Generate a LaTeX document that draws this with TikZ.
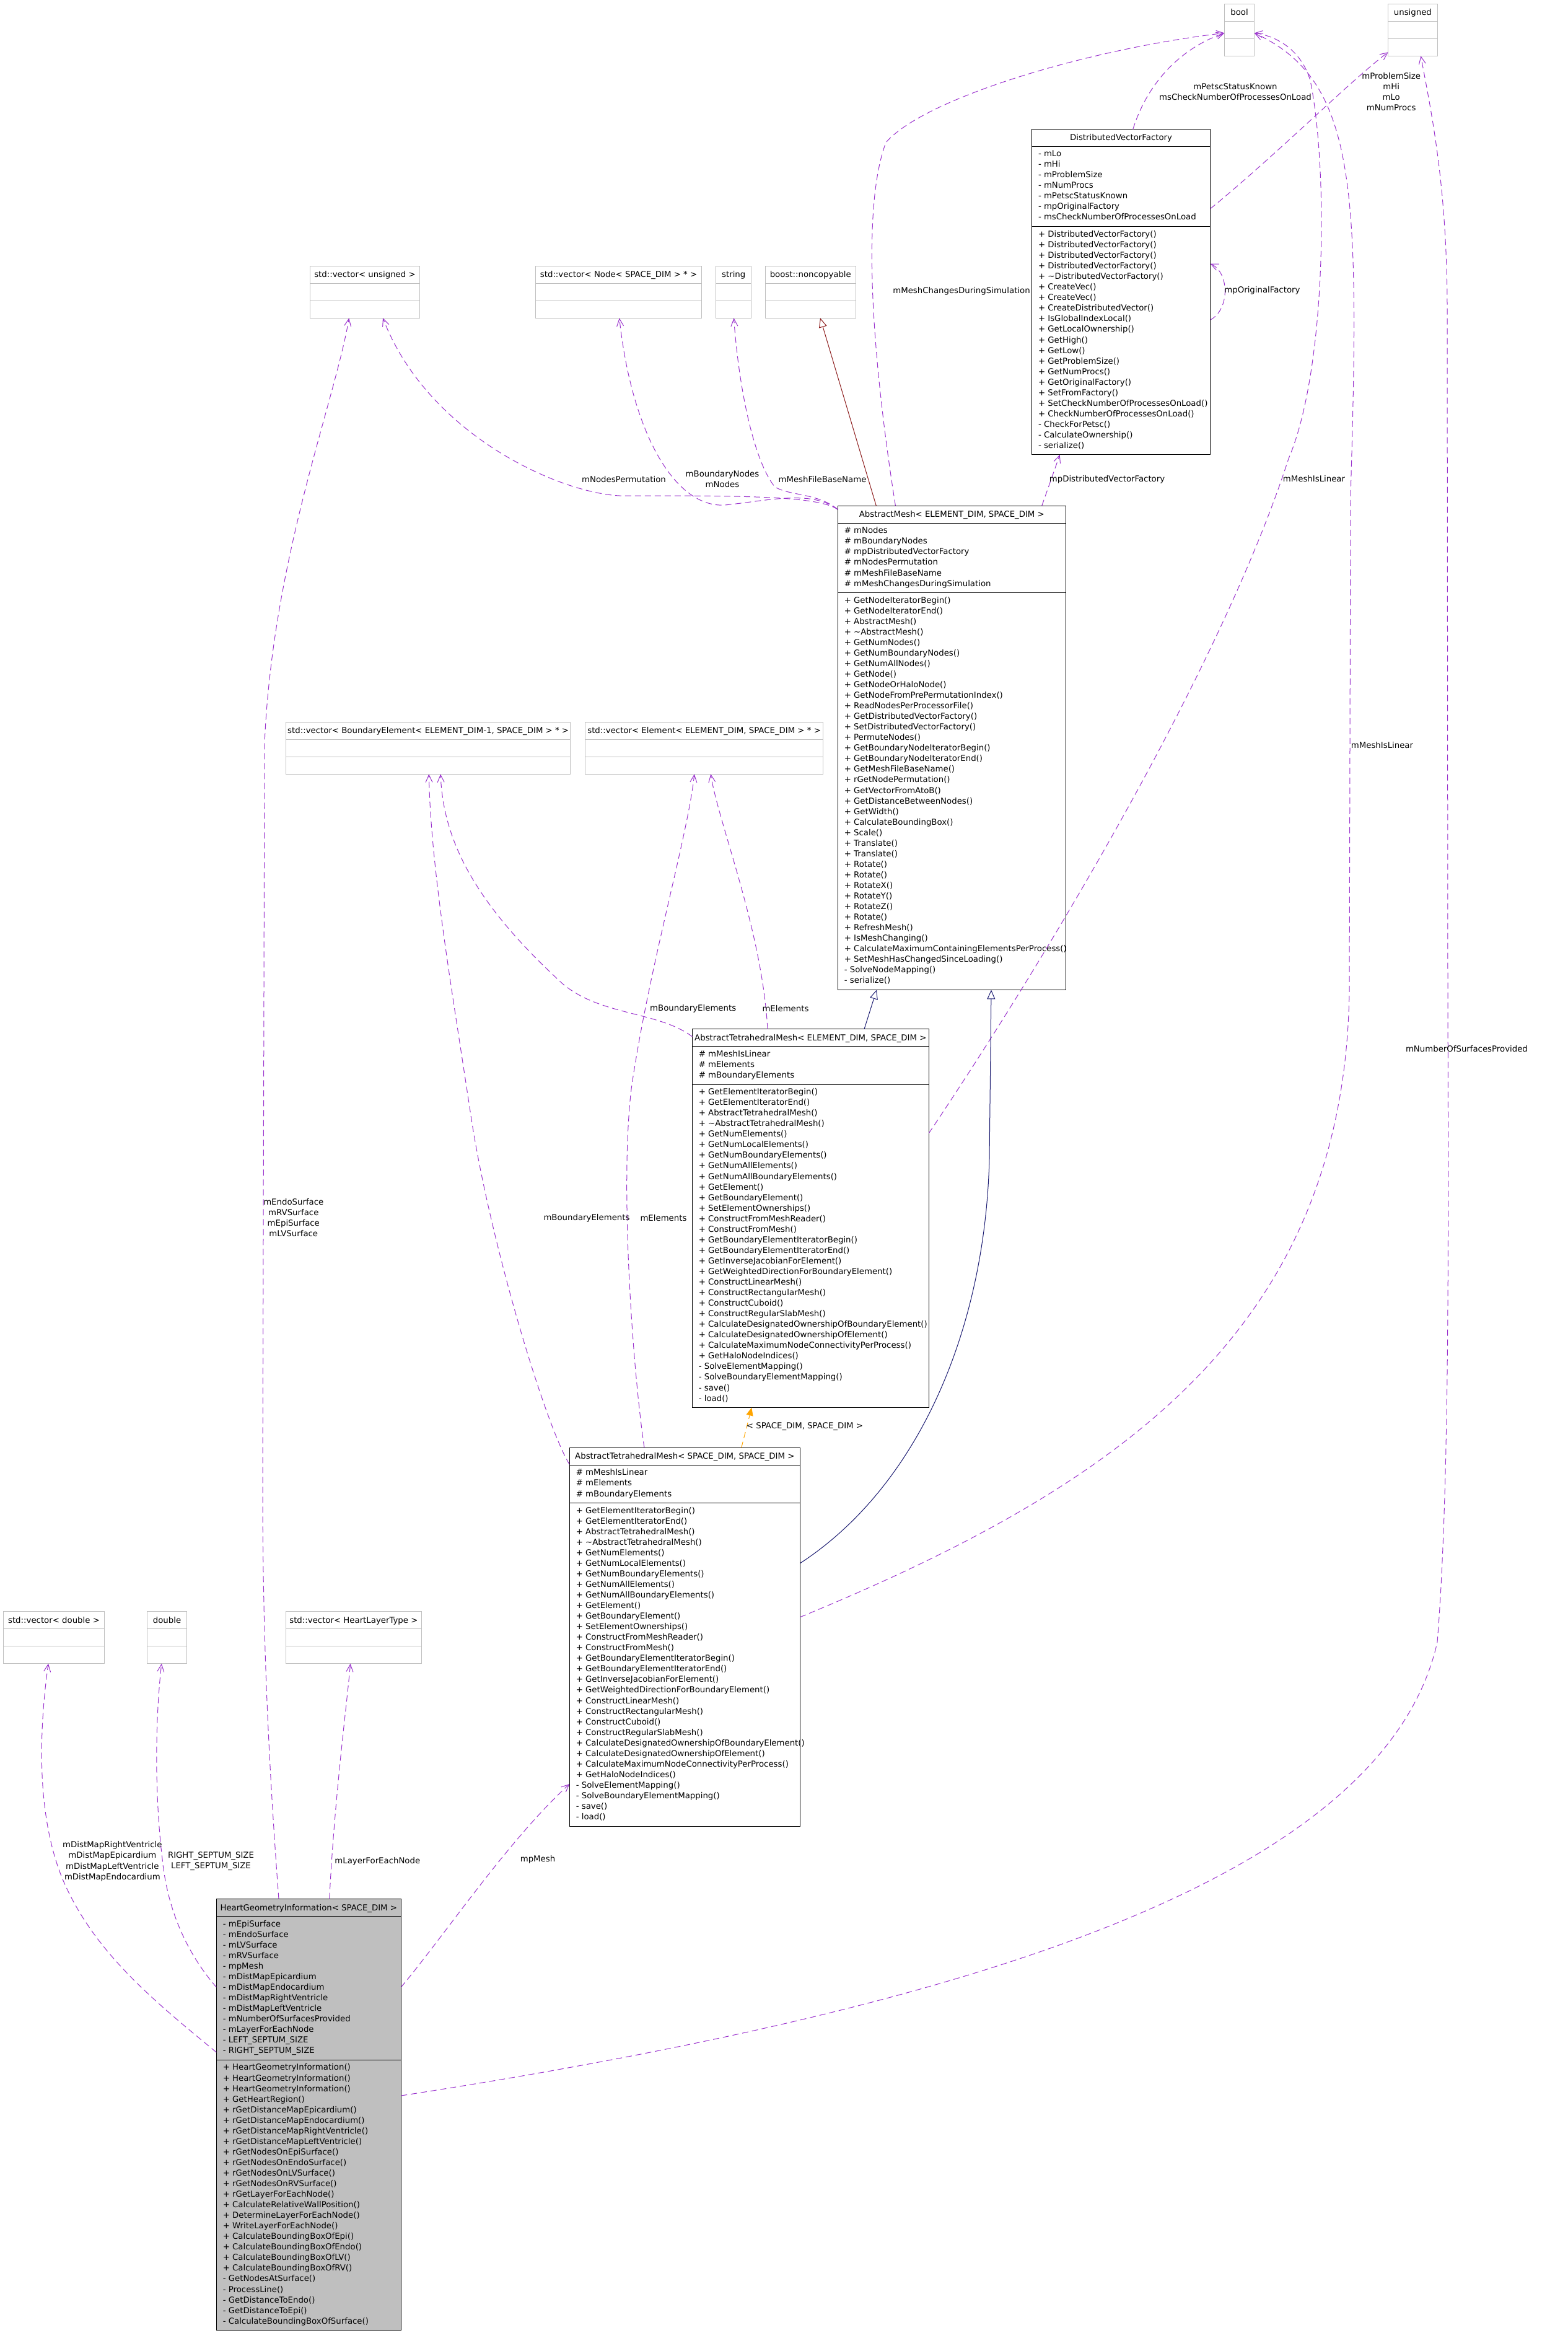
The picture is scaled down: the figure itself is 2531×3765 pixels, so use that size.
\documentclass[tikz,border=0pt]{standalone}
\usepackage{fontspec}
\setmainfont{DejaVu Sans}
\usetikzlibrary{calc,arrows.meta}
\definecolor{edge}{HTML}{9A32CD}
\definecolor{inherit}{HTML}{191970}
\definecolor{privinh}{HTML}{8B1A1A}
\definecolor{tmpl}{HTML}{FFA500}
\definecolor{tline}{HTML}{BFBFBF}
\definecolor{hgifill}{HTML}{BFBFBF}
\tikzset{
  tbox/.style    = {draw=tline, line width=1pt, inner sep=0pt, outer sep=0pt, anchor=north west},
  cbox/.style    = {draw=black, line width=1pt, inner sep=0pt, outer sep=0pt, anchor=north west},
  tdiv/.style    = {draw=tline, line width=1pt},
  cdiv/.style    = {draw=black, line width=1pt},
  txt/.style     = {font=\fontsize{13.3}{17.05}\selectfont, inner sep=0pt, outer sep=0pt},
  hdr/.style     = {txt, anchor=base},
  mem/.style     = {txt, anchor=north west, align=left},
  lbl/.style     = {txt, align=center},
  memb/.style    = {draw=edge, line width=1pt, dash pattern=on 10pt off 6pt,
                    -{Straight Barb[length=12pt,width=11pt]}},
  isa/.style     = {draw=inherit, line width=1pt, -{Triangle[open,length=15pt,width=13pt]}},
  isapriv/.style = {isa, draw=privinh},
  tinst/.style   = {draw=tmpl, line width=1pt, dash pattern=on 10pt off 6pt,
                    -{Triangle[length=13pt,width=11pt]}},
}
\begin{document}
\begin{tikzpicture}[x=1pt,y=-1pt]
\path[use as bounding box] (0,0) rectangle (2531,3765);

% ---------- plain member types ------------------------------------------
\node[tbox, minimum width=48.3pt,  minimum height=84pt] (boolt) at (1976.4,6.3)   {};
\node[tbox, minimum width=79.5pt,  minimum height=84pt] (unsgt) at (2240.6,6.3)   {};
\node[tbox, minimum width=177.4pt, minimum height=84pt] (vuns)  at (500.3,429.3)  {};
\node[tbox, minimum width=267.5pt, minimum height=84pt] (vnode) at (864.8,429.3)  {};
\node[tbox, minimum width=56.9pt,  minimum height=84pt] (strt)  at (1155.8,429.3) {};
\node[tbox, minimum width=145.4pt, minimum height=84pt] (noncp) at (1235.6,429.3) {};
\node[tbox, minimum width=458.9pt, minimum height=84pt] (vbel)  at (461.7,1165.3) {};
\node[tbox, minimum width=383.8pt, minimum height=84pt] (vel)   at (944.7,1165.3) {};
\node[tbox, minimum width=163pt,   minimum height=84pt] (vdbl)  at (5.5,2600.7)   {};
\node[tbox, minimum width=64.3pt,  minimum height=84pt] (dblt)  at (237.4,2600.7) {};
\node[tbox, minimum width=219pt,   minimum height=84pt] (vhlt)  at (461.4,2600.7) {};

\foreach \b in {boolt,unsgt,vuns,vnode,strt,noncp,vbel,vel,vdbl,dblt,vhlt}{
  \draw[tdiv] ($(\b.north west)+(0,28)$) -- ($(\b.north east)+(0,28)$);
  \draw[tdiv] ($(\b.north west)+(0,56)$) -- ($(\b.north east)+(0,56)$);
}

\node[hdr] (boolt-t) at ($(boolt.north)+(0,18.5)$) {bool};
\node[hdr] (unsgt-t) at ($(unsgt.north)+(0,18.5)$) {unsigned};
\node[hdr] (vuns-t)  at ($(vuns.north)+(0,18.5)$)  {std::vector< unsigned >};
\node[hdr] (vnode-t) at ($(vnode.north)+(0,18.5)$) {std::vector< Node< SPACE\_DIM > * >};
\node[hdr] (strt-t)  at ($(strt.north)+(0,18.5)$)  {string};
\node[hdr] (noncp-t) at ($(noncp.north)+(0,18.5)$) {boost::noncopyable};
\node[hdr] (vbel-t)  at ($(vbel.north)+(0,18.5)$)  {std::vector< BoundaryElement< ELEMENT\_DIM-1, SPACE\_DIM > * >};
\node[hdr] (vel-t)   at ($(vel.north)+(0,18.5)$)   {std::vector< Element< ELEMENT\_DIM, SPACE\_DIM > * >};
\node[hdr] (vdbl-t)  at ($(vdbl.north)+(0,18.5)$)  {std::vector< double >};
\node[hdr] (dblt-t)  at ($(dblt.north)+(0,18.5)$)  {double};
\node[hdr] (vhlt-t)  at ($(vhlt.north)+(0,18.5)$)  {std::vector< HeartLayerType >};

% ---------- classes -----------------------------------------------------
\node[cbox, minimum width=288.1pt, minimum height=525.4pt] (dvf)   at (1665.5,208.5)  {};
\node[cbox, minimum width=368pt,   minimum height=781.2pt] (amesh) at (1352.3,816.2)  {};
\node[cbox, minimum width=382pt,   minimum height=610.7pt] (atme)  at (1117.3,1660.8) {};
\node[cbox, minimum width=372pt,   minimum height=610.7pt] (atms)  at (919.3,2336.3)  {};
\node[cbox, fill=hgifill, minimum width=298pt, minimum height=696pt] (hgi) at (349.3,3064.6) {};

\foreach \b/\p/\q in {dvf/28/157.4, amesh/28/140.3, atme/28/89.2, atms/28/89.2, hgi/28/259.7}{
  \draw[cdiv] ($(\b.north west)+(0,\p)$) -- ($(\b.north east)+(0,\p)$);
  \draw[cdiv] ($(\b.north west)+(0,\q)$) -- ($(\b.north east)+(0,\q)$);
}

% DistributedVectorFactory
\node[hdr] (dvf-t) at ($(dvf.north)+(0,18.5)$) {DistributedVectorFactory};
\node[mem] (dvf-a) at ($(dvf.north west)+(10.5,34.5)$)
  {- mLo\\- mHi\\- mProblemSize\\- mNumProcs\\- mPetscStatusKnown\\- mpOriginalFactory\\- msCheckNumberOfProcessesOnLoad};
\node[mem] (dvf-m) at ($(dvf.north west)+(10.5,163.9)$)
  {+ DistributedVectorFactory()\\+ DistributedVectorFactory()\\+ DistributedVectorFactory()\\+ DistributedVectorFactory()\\
   + \textasciitilde DistributedVectorFactory()\\+ CreateVec()\\+ CreateVec()\\+ CreateDistributedVector()\\
   + IsGlobalIndexLocal()\\+ GetLocalOwnership()\\+ GetHigh()\\+ GetLow()\\+ GetProblemSize()\\+ GetNumProcs()\\
   + GetOriginalFactory()\\+ SetFromFactory()\\+ SetCheckNumberOfProcessesOnLoad()\\+ CheckNumberOfProcessesOnLoad()\\
   - CheckForPetsc()\\- CalculateOwnership()\\- serialize()};

% AbstractMesh
\node[hdr] (amesh-t) at ($(amesh.north)+(0,18.5)$) {AbstractMesh< ELEMENT\_DIM, SPACE\_DIM >};
\node[mem] (amesh-a) at ($(amesh.north west)+(10.5,34.5)$)
  {\# mNodes\\\# mBoundaryNodes\\\# mpDistributedVectorFactory\\\# mNodesPermutation\\\# mMeshFileBaseName\\\# mMeshChangesDuringSimulation};
\node[mem] (amesh-m) at ($(amesh.north west)+(10.5,146.8)$)
  {+ GetNodeIteratorBegin()\\+ GetNodeIteratorEnd()\\+ AbstractMesh()\\+ \textasciitilde AbstractMesh()\\+ GetNumNodes()\\
   + GetNumBoundaryNodes()\\+ GetNumAllNodes()\\+ GetNode()\\+ GetNodeOrHaloNode()\\+ GetNodeFromPrePermutationIndex()\\
   + ReadNodesPerProcessorFile()\\+ GetDistributedVectorFactory()\\+ SetDistributedVectorFactory()\\+ PermuteNodes()\\
   + GetBoundaryNodeIteratorBegin()\\+ GetBoundaryNodeIteratorEnd()\\+ GetMeshFileBaseName()\\+ rGetNodePermutation()\\
   + GetVectorFromAtoB()\\+ GetDistanceBetweenNodes()\\+ GetWidth()\\+ CalculateBoundingBox()\\+ Scale()\\+ Translate()\\
   + Translate()\\+ Rotate()\\+ Rotate()\\+ RotateX()\\+ RotateY()\\+ RotateZ()\\+ Rotate()\\+ RefreshMesh()\\
   + IsMeshChanging()\\+ CalculateMaximumContainingElementsPerProcess()\\+ SetMeshHasChangedSinceLoading()\\
   - SolveNodeMapping()\\- serialize()};

% AbstractTetrahedralMesh, both instances
\node[hdr] (atme-t) at ($(atme.north)+(0,18.5)$) {AbstractTetrahedralMesh< ELEMENT\_DIM, SPACE\_DIM >};
\node[hdr] (atms-t) at ($(atms.north)+(0,18.5)$) {AbstractTetrahedralMesh< SPACE\_DIM, SPACE\_DIM >};
\foreach \b in {atme,atms}{
  \node[mem] (\b-a) at ($(\b.north west)+(10.5,34.5)$)
    {\# mMeshIsLinear\\\# mElements\\\# mBoundaryElements};
  \node[mem] (\b-m) at ($(\b.north west)+(10.5,95.7)$)
    {+ GetElementIteratorBegin()\\+ GetElementIteratorEnd()\\+ AbstractTetrahedralMesh()\\+ \textasciitilde AbstractTetrahedralMesh()\\
     + GetNumElements()\\+ GetNumLocalElements()\\+ GetNumBoundaryElements()\\+ GetNumAllElements()\\
     + GetNumAllBoundaryElements()\\+ GetElement()\\+ GetBoundaryElement()\\+ SetElementOwnerships()\\
     + ConstructFromMeshReader()\\+ ConstructFromMesh()\\+ GetBoundaryElementIteratorBegin()\\+ GetBoundaryElementIteratorEnd()\\
     + GetInverseJacobianForElement()\\+ GetWeightedDirectionForBoundaryElement()\\+ ConstructLinearMesh()\\
     + ConstructRectangularMesh()\\+ ConstructCuboid()\\+ ConstructRegularSlabMesh()\\
     + CalculateDesignatedOwnershipOfBoundaryElement()\\+ CalculateDesignatedOwnershipOfElement()\\
     + CalculateMaximumNodeConnectivityPerProcess()\\+ GetHaloNodeIndices()\\- SolveElementMapping()\\
     - SolveBoundaryElementMapping()\\- save()\\- load()};
}

% HeartGeometryInformation
\node[hdr] (hgi-t) at ($(hgi.north)+(0,18.5)$) {HeartGeometryInformation< SPACE\_DIM >};
\node[mem] (hgi-a) at ($(hgi.north west)+(10.5,34.5)$)
  {- mEpiSurface\\- mEndoSurface\\- mLVSurface\\- mRVSurface\\- mpMesh\\- mDistMapEpicardium\\- mDistMapEndocardium\\
   - mDistMapRightVentricle\\- mDistMapLeftVentricle\\- mNumberOfSurfacesProvided\\- mLayerForEachNode\\
   - LEFT\_SEPTUM\_SIZE\\- RIGHT\_SEPTUM\_SIZE};
\node[mem] (hgi-m) at ($(hgi.north west)+(10.5,266.2)$)
  {+ HeartGeometryInformation()\\+ HeartGeometryInformation()\\+ HeartGeometryInformation()\\+ GetHeartRegion()\\
   + rGetDistanceMapEpicardium()\\+ rGetDistanceMapEndocardium()\\+ rGetDistanceMapRightVentricle()\\
   + rGetDistanceMapLeftVentricle()\\+ rGetNodesOnEpiSurface()\\+ rGetNodesOnEndoSurface()\\+ rGetNodesOnLVSurface()\\
   + rGetNodesOnRVSurface()\\+ rGetLayerForEachNode()\\+ CalculateRelativeWallPosition()\\+ DetermineLayerForEachNode()\\
   + WriteLayerForEachNode()\\+ CalculateBoundingBoxOfEpi()\\+ CalculateBoundingBoxOfEndo()\\+ CalculateBoundingBoxOfLV()\\
   + CalculateBoundingBoxOfRV()\\- GetNodesAtSurface()\\- ProcessLine()\\- GetDistanceToEndo()\\- GetDistanceToEpi()\\
   - CalculateBoundingBoxOfSurface()};

% ---------- DistributedVectorFactory members ----------------------------
\draw[memb] ($(dvf.north west)+(163.3,0)$) .. controls (1850,140) and (1900,80) .. ($(boolt.north west)+(0,47)$);
\draw[memb] ($(dvf.north east)+(0,128.4)$) .. controls (2060,250) and (2180,130) .. ($(unsgt.south west)+(0,-6)$);
\draw[memb] ($(dvf.north east)+(0,307.7)$) .. controls (1985,500) and (1985,440) .. ($(dvf.north east)+(0,217.1)$);
\node[lbl] (l-petsc) at (1994,148) {mPetscStatusKnown\\msCheckNumberOfProcessesOnLoad};
\node[lbl] (l-size) at (2245.7,148) {mProblemSize\\mHi\\mLo\\mNumProcs};
\node[lbl, anchor=west] (l-orig) at (1976.4,469.2) {mpOriginalFactory};

% ---------- AbstractMesh members and base -------------------------------
\draw[isapriv] ($(amesh.north west)+(62,0)$) -- ($(noncp.south west)+(88.4,0)$);
\draw[memb] ($(amesh.north west)+(93.1,0)$) .. controls (1405,560) and (1392,330) .. (1430,230)
  .. controls (1490,160) and (1750,80) .. ($(boolt.north west)+(0,47)$);
\draw[memb] ($(amesh.north west)+(329.4,0)$) -- ($(dvf.south west)+(45.2,0)$);
\draw[memb] ($(amesh.north west)+(0,6)$) .. controls (1320,800) and (1200,800) .. (1000,800)
  .. controls (900,795) and (690,700) .. ($(vuns.south west)+(117.7,0)$);
\draw[memb] ($(amesh.north west)+(0,6)$) .. controls (1310,790) and (1240,808) .. (1170,815)
  .. controls (1090,820) and (1020,700) .. ($(vnode.south west)+(134.9,0)$);
\draw[memb] ($(amesh.north west)+(0,6)$) .. controls (1320,795) and (1270,800) .. (1250,785)
  .. controls (1215,740) and (1192,620) .. ($(strt.south west)+(28.7,0)$);
\node[lbl] (l-chg) at (1552,469.4) {mMeshChangesDuringSimulation};
\node[lbl] (l-dvf) at (1787,773.4) {mpDistributedVectorFactory};
\node[lbl] (l-perm) at (1007,774) {mNodesPermutation};
\node[lbl] (l-nodes) at (1166,773) {mBoundaryNodes\\mNodes};
\node[lbl] (l-fname) at (1327.5,774) {mMeshFileBaseName};

% ---------- AbstractTetrahedralMesh< ELEMENT_DIM, SPACE_DIM > -----------
\draw[isa] ($(atme.north west)+(277.7,0)$) -- ($(amesh.south west)+(62.7,0)$);
\draw[memb] ($(atme.north west)+(121.7,0)$) .. controls (1230,1500) and (1160,1330) .. ($(vel.south west)+(202.5,0)$);
\draw[memb] ($(atme.north west)+(0,12)$) .. controls (1060,1630) and (960,1640) .. (900,1580)
  .. controls (760,1450) and (715,1350) .. ($(vbel.south west)+(249.4,0)$);
\draw[memb] ($(atme.north east)+(0,168)$) .. controls (1720,1500) and (1980,1050) .. (2080,740)
  .. controls (2140,600) and (2145,280) .. (2115,130)
  .. controls (2100,80) and (2060,58) .. ($(boolt.north east)+(0,47)$);
\node[lbl] (l-bel1) at (1118.7,1628) {mBoundaryElements};
\node[lbl] (l-el1) at (1268,1628) {mElements};
\node[lbl] (l-lin1) at (2121,773) {mMeshIsLinear};

% ---------- AbstractTetrahedralMesh< SPACE_DIM, SPACE_DIM > -------------
\draw[tinst] ($(atms.north west)+(277.4,0)$) -- ($(atme.south west)+(96,0)$);
\draw[isa] ($(atms.north east)+(0,186.6)$) .. controls (1480,2400) and (1590,2150) .. (1597,1870)
  -- ($(amesh.south west)+(247.7,0)$);
\draw[memb] ($(atms.north west)+(0,27)$) .. controls (880,2300) and (790,2000) .. (760,1800)
  .. controls (730,1600) and (695,1400) .. ($(vbel.south west)+(230.6,0)$);
\draw[memb] ($(atms.north west)+(120.7,0)$) .. controls (1020,2200) and (1000,1900) .. (1020,1750)
  .. controls (1050,1550) and (1110,1350) .. ($(vel.south west)+(176.1,0)$);
\draw[memb] ($(atms.north east)+(0,273.5)$) .. controls (1800,2400) and (2170,2150) .. (2178,1600)
  -- (2180,800) .. controls (2195,300) and (2190,130) .. ($(boolt.north east)+(0,47)$);
\node[lbl] (l-inst) at (1299,2302) {< SPACE\_DIM, SPACE\_DIM >};
\node[lbl] (l-bel2) at (947,1965.7) {mBoundaryElements};
\node[lbl] (l-el2) at (1071,1965.7) {mElements};
\node[lbl] (l-lin2) at (2231,1203) {mMeshIsLinear};

% ---------- HeartGeometryInformation members ----------------------------
\draw[memb] ($(hgi.north west)+(100.7,0)$) .. controls (430,2800) and (424,2600) .. (424,2400)
  -- (427,1200) .. controls (440,900) and (540,650) .. ($(vuns.south west)+(63.1,0)$);
\draw[memb] ($(hgi.north west)+(182.4,0)$) .. controls (540,2900) and (560,2750) .. ($(vhlt.south west)+(104.2,0)$);
\draw[memb] ($(hgi.north west)+(0,247.4)$) .. controls (250,3230) and (150,3150) .. (100,3030)
  .. controls (60,2930) and (62,2800) .. ($(vdbl.south west)+(72.5,0)$);
\draw[memb] ($(hgi.north west)+(0,142.4)$) .. controls (300,3150) and (270,3080) .. (262,3000)
  .. controls (250,2900) and (250,2780) .. ($(dblt.south west)+(23.4,0)$);
\draw[memb] ($(hgi.north east)+(0,142.4)$) .. controls (720,3120) and (820,2970) .. ($(atms.north west)+(0,542.7)$);
\draw[memb] ($(hgi.north east)+(0,317.4)$) .. controls (1500,3250) and (2230,3050) .. (2320,2650)
  .. controls (2340,2400) and (2338,2000) .. (2337,1600) -- (2336,500)
  .. controls (2336,300) and (2310,180) .. ($(unsgt.south west)+(52.8,0)$);
\node[lbl] (l-surf) at (473.8,1965.4) {mEndoSurface\\mRVSurface\\mEpiSurface\\mLVSurface};
\node[lbl] (l-dist) at (181.4,3003.8) {mDistMapRightVentricle\\mDistMapEpicardium\\mDistMapLeftVentricle\\mDistMapEndocardium};
\node[lbl] (l-sept) at (340.5,3004) {RIGHT\_SEPTUM\_SIZE\\LEFT\_SEPTUM\_SIZE};
\node[lbl] (l-layer) at (609.3,3003.3) {mLayerForEachNode};
\node[lbl] (l-mesh) at (868,3001) {mpMesh};
\node[lbl, anchor=west] (l-nsurf) at (2269,1693) {mNumberOfSurfacesProvided};

\end{tikzpicture}
\end{document}
